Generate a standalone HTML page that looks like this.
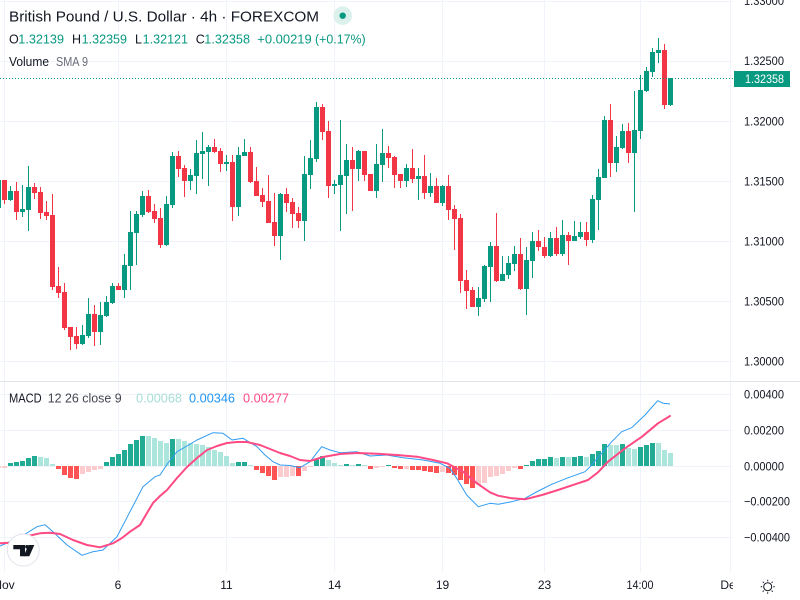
<!DOCTYPE html>
<html>
<head>
<meta charset="utf-8">
<style>
html,body{margin:0;padding:0;background:#fff;}
svg{display:block;}
text{font-family:"Liberation Sans",sans-serif;}
</style>
</head>
<body>
<svg width="800" height="600" viewBox="0 0 800 600" xmlns="http://www.w3.org/2000/svg">
<defs>
<clipPath id="plot"><rect x="0" y="0" width="733" height="600"/></clipPath>
</defs>
<rect x="0" y="0" width="800" height="600" fill="#fff"/>

<!-- grid -->
<g stroke="#f0f3fa" stroke-width="1" shape-rendering="crispEdges">
<path d="M4.5,0V572M118.5,0V572M226.5,0V572M334.5,0V572M442.5,0V572M544.5,0V572M640.5,0V572M730.5,0V572"/>
<path d="M0,1.5H733M0,61.5H733M0,121.5H733M0,181.5H733M0,241.5H733M0,301.5H733M0,361.5H733"/>
<path d="M0,394.5H733M0,430.5H733M0,466.5H733M0,501.5H733M0,537.5H733"/>
</g>
<path d="M0,381.5H800" stroke="#e0e3eb" stroke-width="1" shape-rendering="crispEdges"/>

<!-- candles -->
<g clip-path="url(#plot)" shape-rendering="crispEdges">
<path stroke="#089981" stroke-width="1" fill="none" d="M-1.5,175V210M10.5,186V201M22.5,185V217M28.5,166V231M82.5,325V345M88.5,298V338M100.5,302V345M106.5,296V317M112.5,283V304M124.5,254V298M130.5,211V290M136.5,211V265M142.5,191V217M166.5,196V246M172.5,152V208M190.5,169V190M196.5,140V194M202.5,132V179M208.5,145V186M226.5,155V171M238.5,147V216M244.5,139V156M280.5,193V260M304.5,156V241M310.5,140V189M316.5,102V162M334.5,180V194M340.5,120V231M346.5,144V214M358.5,150V181M376.5,144V198M382.5,129V182M406.5,164V187M418.5,168V200M430.5,173V197M442.5,185V206M478.5,287V316M484.5,265V302M490.5,242V302M502.5,256V281M508.5,256V279M514.5,246V271M526.5,247V315M532.5,232V278M550.5,232V257M562.5,220V256M574.5,221V241M580.5,222V239M592.5,195V243M598.5,169V230M604.5,116V178M616.5,136V172M622.5,124V149M634.5,91V212M640.5,75V139M646.5,67V92M652.5,48V77M658.5,38V63M670.5,78V106"/>
<path fill="#089981" d="M-4,180h5v28h-5zM8,191h5v9h-5zM20,209h5v3h-5zM26,187h5v23h-5zM80,335h5v9h-5zM86,314h5v22h-5zM98,315h5v17h-5zM104,302h5v14h-5zM110,286h5v17h-5zM122,265h5v25h-5zM128,232h5v34h-5zM134,214h5v19h-5zM140,196h5v19h-5zM164,204h5v41h-5zM170,156h5v49h-5zM188,175h5v6h-5zM194,153h5v23h-5zM200,151h5v3h-5zM206,147h5v5h-5zM224,162h5v2h-5zM236,155h5v52h-5zM242,152h5v4h-5zM278,194h5v42h-5zM302,174h5v47h-5zM308,158h5v17h-5zM314,107h5v52h-5zM332,184h5v2h-5zM338,175h5v10h-5zM344,160h5v16h-5zM356,151h5v18h-5zM374,164h5v27h-5zM380,153h5v12h-5zM404,168h5v13h-5zM416,176h5v3h-5zM428,186h5v7h-5zM440,186h5v17h-5zM476,298h5v9h-5zM482,266h5v33h-5zM488,246h5v21h-5zM500,274h5v7h-5zM506,263h5v12h-5zM512,254h5v10h-5zM524,260h5v29h-5zM530,241h5v20h-5zM548,238h5v18h-5zM560,235h5v19h-5zM572,236h5v5h-5zM578,232h5v5h-5zM590,199h5v41h-5zM596,177h5v23h-5zM602,120h5v58h-5zM614,147h5v16h-5zM620,131h5v17h-5zM632,130h5v23h-5zM638,90h5v41h-5zM644,71h5v20h-5zM650,52h5v20h-5zM656,50h5v3h-5zM668,78h5v27h-5z"/>
<path stroke="#f23645" stroke-width="1" fill="none" d="M4.5,180V204M16.5,182V220M34.5,183V199M40.5,187V219M46.5,201V220M52.5,194V290M58.5,267V298M64.5,283V330M70.5,327V350M76.5,327V349M94.5,305V346M118.5,283V290M148.5,190V213M154.5,204V223M160.5,208V248M178.5,151V177M184.5,165V197M214.5,139V153M220.5,148V172M232.5,155V221M250.5,147V183M256.5,167V196M262.5,188V207M268.5,175V223M274.5,193V246M286.5,188V212M292.5,198V228M298.5,207V228M322.5,104V140M328.5,121V198M352.5,147V211M364.5,151V181M370.5,174V191M388.5,146V168M394.5,156V188M400.5,174V188M412.5,149V183M424.5,155V199M436.5,178V203M448.5,175V220M454.5,205V250M460.5,214V293M466.5,270V309M472.5,287V307M496.5,213V282M520.5,238V290M538.5,230V251M544.5,237V258M556.5,227V256M568.5,232V265M586.5,222V246M610.5,104V177M628.5,123V163M664.5,44V109"/>
<path fill="#f23645" d="M2,180h5v20h-5zM14,191h5v21h-5zM32,187h5v6h-5zM38,192h5v21h-5zM44,212h5v4h-5zM50,215h5v72h-5zM56,286h5v7h-5zM62,292h5v36h-5zM68,327h5v10h-5zM74,336h5v8h-5zM92,314h5v18h-5zM116,286h5v4h-5zM146,196h5v16h-5zM152,211h5v8h-5zM158,218h5v27h-5zM176,156h5v13h-5zM182,168h5v13h-5zM212,147h5v5h-5zM218,151h5v13h-5zM230,162h5v45h-5zM248,152h5v30h-5zM254,181h5v15h-5zM260,195h5v7h-5zM266,201h5v22h-5zM272,222h5v14h-5zM284,194h5v9h-5zM290,202h5v12h-5zM296,213h5v8h-5zM320,107h5v25h-5zM326,131h5v55h-5zM350,160h5v9h-5zM362,151h5v24h-5zM368,174h5v17h-5zM386,153h5v5h-5zM392,157h5v18h-5zM398,174h5v7h-5zM410,168h5v11h-5zM422,176h5v17h-5zM434,186h5v17h-5zM446,186h5v24h-5zM452,209h5v10h-5zM458,218h5v63h-5zM464,280h5v11h-5zM470,290h5v17h-5zM494,246h5v35h-5zM518,254h5v35h-5zM536,241h5v6h-5zM542,247h5v9h-5zM554,238h5v16h-5zM566,235h5v6h-5zM584,232h5v8h-5zM608,120h5v43h-5zM626,131h5v22h-5zM662,50h5v55h-5z"/>
</g>

<!-- current price line -->
<path d="M0,78.5H734" stroke="#089981" stroke-width="1" stroke-dasharray="1 2" shape-rendering="crispEdges"/>

<!-- MACD histogram -->
<g clip-path="url(#plot)" shape-rendering="crispEdges">
<path fill="#22ab94" d="M8,466h5V463h-5zM14,466h5V462h-5zM20,466h5V461h-5zM26,466h5V458h-5zM32,466h5V456h-5zM104,466h5V462h-5zM110,466h5V457h-5zM116,466h5V454h-5zM122,466h5V450h-5zM128,466h5V444h-5zM134,466h5V440h-5zM140,466h5V436h-5zM170,466h5V439h-5zM236,466h5V462h-5zM242,466h5V462h-5zM314,466h5V459h-5zM320,466h5V456h-5zM344,466h5V464h-5zM356,466h5V464h-5zM386,466h5V465h-5zM524,466h5V465h-5zM530,466h5V461h-5zM536,466h5V459h-5zM542,466h5V459h-5zM548,466h5V457h-5zM560,466h5V457h-5zM572,466h5V457h-5zM578,466h5V456h-5zM590,466h5V454h-5zM596,466h5V451h-5zM602,466h5V444h-5zM620,466h5V444h-5zM638,466h5V447h-5zM644,466h5V445h-5zM650,466h5V443h-5z"/>
<path fill="#ace5dc" d="M38,466h5V457h-5zM44,466h5V458h-5zM50,466h5V464h-5zM146,466h5V436h-5zM152,466h5V438h-5zM158,466h5V441h-5zM164,466h5V443h-5zM176,466h5V439h-5zM182,466h5V441h-5zM188,466h5V443h-5zM194,466h5V444h-5zM200,466h5V445h-5zM206,466h5V447h-5zM212,466h5V450h-5zM218,466h5V452h-5zM224,466h5V456h-5zM230,466h5V463h-5zM248,466h5V465h-5zM326,466h5V460h-5zM332,466h5V463h-5zM338,466h5V465h-5zM350,466h5V465h-5zM362,466h5V465h-5zM554,466h5V458h-5zM566,466h5V457h-5zM584,466h5V457h-5zM608,466h5V445h-5zM614,466h5V445h-5zM626,466h5V448h-5zM632,466h5V449h-5zM656,466h5V443h-5zM662,466h5V450h-5zM668,466h5V453h-5z"/>
<path fill="#ff5252" d="M56,466h5V469h-5zM62,466h5V475h-5zM68,466h5V478h-5zM74,466h5V479h-5zM254,466h5V470h-5zM260,466h5V473h-5zM266,466h5V476h-5zM272,466h5V480h-5zM296,466h5V476h-5zM368,466h5V469h-5zM392,466h5V468h-5zM398,466h5V469h-5zM410,466h5V470h-5zM416,466h5V470h-5zM422,466h5V471h-5zM428,466h5V472h-5zM434,466h5V473h-5zM446,466h5V473h-5zM452,466h5V475h-5zM458,466h5V480h-5zM464,466h5V484h-5zM470,466h5V488h-5zM518,466h5V469h-5z"/>
<path fill="#fccbcd" d="M-4,466h5V468h-5zM2,466h5V468h-5zM80,466h5V474h-5zM86,466h5V472h-5zM92,466h5V470h-5zM98,466h5V469h-5zM278,466h5V477h-5zM284,466h5V477h-5zM290,466h5V476h-5zM302,466h5V471h-5zM308,466h5V467h-5zM374,466h5V468h-5zM380,466h5V467h-5zM404,466h5V469h-5zM440,466h5V472h-5zM476,466h5V485h-5zM482,466h5V483h-5zM488,466h5V477h-5zM494,466h5V476h-5zM500,466h5V474h-5zM506,466h5V471h-5zM512,466h5V468h-5z"/>
</g>

<!-- MACD lines -->
<polyline fill="none" stroke="#2f9bf3" stroke-width="1" stroke-linejoin="round" points="0,546 7,543 17,538 27,533 37,526.7 45,524.7 53,531.7 67,545 82,555.3 93,551.7 103,550 117,536.7 130,511.7 143,486.7 155,476.7 160,475 168,463 177,451.7 187,446 197,440 213,432.7 223,433.3 232,440 243,438.3 257,446.7 265,455 273,461.7 280,465 290,465.5 300,467.7 310,461.7 321.7,446.7 330,450 340,452.7 356.7,451.7 370,456 386.7,455 403.3,457.7 423.3,460 440,463.3 450,468.3 456.7,478.3 466.7,495 478.3,506.7 490,503.3 498.3,504.3 511.7,501.7 525,498.3 538.3,491 551.7,484.3 568.3,477.7 585,471.7 590,466.7 601.7,453.3 611.7,441.7 621.7,431.7 631.7,427.7 645,415 657.7,400.7 663.3,403.3 670,404"/>
<polyline fill="none" stroke="#ff4a83" stroke-width="2" stroke-linejoin="round" stroke-linecap="round" points="0,543.3 10,542.7 20,539 30,535.5 40,533.3 50,532.7 60,534 73,540 87,545 100,547.3 113,543.3 122,538 130,531.7 140,525 147,513 153,503 160,496 167,490 177,478 187,467 197,458 207,450 217,446 227,443 237,442 247,442 260,445 270,449 280,453 290,456 300,460 310,461 323,457 340,454 357,453 377,453.7 397,455 417,456.7 433,460 447,463.3 463,471.7 477,483.3 490,492.3 498,495.7 512,498.3 525,499.3 542,495 558,490 575,484.3 588,480 598,472.3 608,461.7 625,448.3 642,436.7 658,423.3 670,416"/>

<!-- TV logo -->
<circle cx="23.3" cy="550" r="16" fill="#fff" stroke="#e0e3eb" stroke-width="1"/>
<path fill="#131722" d="M13.3,545H25V556.3H20V549.3H13.3Z"/>
<circle cx="26.9" cy="546.8" r="1.8" fill="#131722"/>
<path fill="#131722" d="M28.5,545H34.3L29.3,556.3H23.6Z"/>

<!-- Header legend -->
<text x="9" y="21.7" font-size="15" fill="#131722" textLength="310" lengthAdjust="spacingAndGlyphs">British Pound / U.S. Dollar · 4h · FOREXCOM</text>
<circle cx="342.7" cy="15.7" r="9.3" fill="#dcf1ec"/>
<circle cx="342.7" cy="15.7" r="3.2" fill="#089981"/>

<g font-size="12.5">
<text x="9" y="43.3" fill="#131722">O</text>
<text x="18.3" y="43.3" fill="#089981" textLength="45.7" lengthAdjust="spacingAndGlyphs">1.32139</text>
<text x="72" y="43.3" fill="#131722">H</text>
<text x="81.7" y="43.3" fill="#089981" textLength="45.3" lengthAdjust="spacingAndGlyphs">1.32359</text>
<text x="135" y="43.3" fill="#131722">L</text>
<text x="142.7" y="43.3" fill="#089981" textLength="45.3" lengthAdjust="spacingAndGlyphs">1.32121</text>
<text x="195.7" y="43.3" fill="#131722">C</text>
<text x="204.3" y="43.3" fill="#089981" textLength="45.7" lengthAdjust="spacingAndGlyphs">1.32358</text>
<text x="257.3" y="43.3" fill="#089981" textLength="54.4" lengthAdjust="spacingAndGlyphs">+0.00219</text>
<text x="315" y="43.3" fill="#089981" textLength="50.7" lengthAdjust="spacingAndGlyphs">(+0.17%)</text>
</g>
<text x="9" y="66" font-size="12.5" fill="#131722" textLength="40" lengthAdjust="spacingAndGlyphs">Volume</text>
<text x="56" y="66" font-size="12.5" fill="#6a6d78" textLength="32" lengthAdjust="spacingAndGlyphs">SMA 9</text>

<!-- MACD legend -->
<text x="9" y="402.7" font-size="12.5" fill="#131722" textLength="32.7" lengthAdjust="spacingAndGlyphs">MACD</text>
<text x="47.7" y="402.7" font-size="12.5" fill="#434651" textLength="74" lengthAdjust="spacingAndGlyphs">12 26 close 9</text>
<text x="136" y="402.7" font-size="12.5" fill="#a6ded4" textLength="46" lengthAdjust="spacingAndGlyphs">0.00068</text>
<text x="189" y="402.7" font-size="12.5" fill="#2196f3" textLength="46" lengthAdjust="spacingAndGlyphs">0.00346</text>
<text x="243" y="402.7" font-size="12.5" fill="#ff4a83" textLength="46" lengthAdjust="spacingAndGlyphs">0.00277</text>

<!-- Price axis -->
<g font-size="12" fill="#131722">
<text x="744" y="5" textLength="40" lengthAdjust="spacingAndGlyphs">1.33000</text>
<text x="744" y="65" textLength="40" lengthAdjust="spacingAndGlyphs">1.32500</text>
<text x="744" y="125.5" textLength="40" lengthAdjust="spacingAndGlyphs">1.32000</text>
<text x="744" y="185.5" textLength="40" lengthAdjust="spacingAndGlyphs">1.31500</text>
<text x="744" y="245.5" textLength="40" lengthAdjust="spacingAndGlyphs">1.31000</text>
<text x="744" y="305.5" textLength="40" lengthAdjust="spacingAndGlyphs">1.30500</text>
<text x="744" y="365.5" textLength="40" lengthAdjust="spacingAndGlyphs">1.30000</text>
<text x="744" y="398.5" textLength="40" lengthAdjust="spacingAndGlyphs">0.00400</text>
<text x="744" y="434.5" textLength="40" lengthAdjust="spacingAndGlyphs">0.00200</text>
<text x="744" y="470.5" textLength="40" lengthAdjust="spacingAndGlyphs">0.00000</text>
<text x="744" y="505.5" textLength="46" lengthAdjust="spacingAndGlyphs">−0.00200</text>
<text x="744" y="541.5" textLength="46" lengthAdjust="spacingAndGlyphs">−0.00400</text>
</g>
<rect x="734" y="71" width="56" height="16" fill="#089981"/>
<text x="745" y="83" font-size="12" fill="#fff" textLength="39" lengthAdjust="spacingAndGlyphs">1.32358</text>

<!-- Time axis -->
<g font-size="12" fill="#131722" text-anchor="middle" clip-path="url(#plot)">
<text x="4" y="589">Nov</text>
<text x="118" y="589">6</text>
<text x="226.5" y="589">11</text>
<text x="334.5" y="589">14</text>
<text x="442.5" y="589">19</text>
<text x="544.5" y="589">23</text>
<text x="640" y="589" textLength="27" lengthAdjust="spacingAndGlyphs">14:00</text>
<text x="731" y="589">Dec</text>
</g>

<!-- settings icon -->
<g stroke="#131722" stroke-width="1" fill="none">
<circle cx="767.7" cy="586.7" r="4"/>
<path d="M767.7,579.7V581.2M767.7,592.2V593.7M760.7,586.7H762.2M773.2,586.7H774.7M762.7,581.7L763.8,582.8M771.6,590.6L772.7,591.7M762.7,591.7L763.8,590.6M771.6,582.8L772.7,581.7"/>
</g>
</svg>
</body>
</html>
